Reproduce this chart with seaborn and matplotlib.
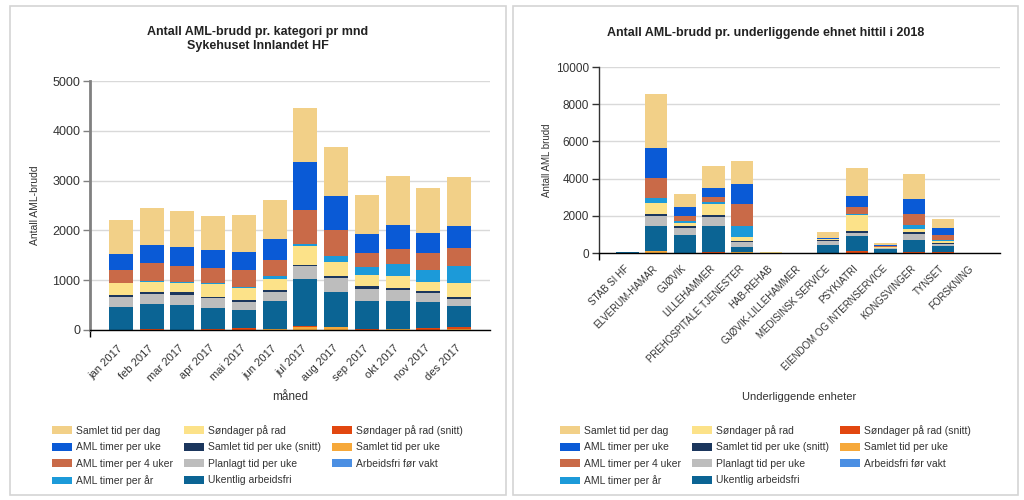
import numpy as np
import pandas as pd
import matplotlib
matplotlib.use("Agg")
import matplotlib.pyplot as plt
import seaborn as sns
from matplotlib.patches import Patch, Rectangle

# ---------------- data ----------------
months = ["jan 2017", "feb 2017", "mar 2017", "apr 2017", "mai 2017", "jun 2017",
          "jul 2017", "aug 2017", "sep 2017", "okt 2017", "nov 2017", "des 2017"]
units = ["STAB SI HF", "ELVERUM-HAMAR", "GJØVIK", "LILLEHAMMER", "PREHOSPITALE TJENESTER",
         "HAB-REHAB", "GJØVIK-LILLEHAMMER", "MEDISINSK SERVICE", "PSYKIATRI",
         "EIENDOM OG INTERNSERVICE", "KONGSVINGER", "TYNSET", "FORSKNING"]

series_names = ["Samlet tid per dag", "AML timer per uke", "AML timer per 4 uker",
                "AML timer per år", "Søndager på rad", "Samlet tid per uke (snitt)",
                "Planlagt tid per uke", "Ukentlig arbeidsfri", "Søndager på rad (snitt)",
                "Samlet tid per uke", "Arbeidsfri før vakt"]
series_colors = ["#F2D088", "#0A5AD6", "#C96A48", "#1C9AD9", "#FCE289", "#1B365D",
                 "#BDBDBD", "#0B6494", "#E2470F", "#F6A83A", "#4B8FE3"]

# per month (left chart)
m_samlet_dag = [676, 736, 717, 689, 736, 776, 1091, 978, 783, 991, 904, 978]
m_aml_uke = [321, 368, 388, 362, 368, 428, 957, 689, 389, 475, 402, 441]
m_aml_4uker = [258, 355, 328, 288, 335, 315, 683, 515, 267, 308, 334, 362]
m_aml_aar = [10, 20, 20, 20, 33, 67, 40, 121, 168, 241, 248, 348]
m_sondager = [234, 208, 181, 267, 241, 214, 382, 288, 220, 241, 181, 274]
m_samlet_uke_snitt = [34, 40, 53, 27, 27, 40, 13, 47, 54, 33, 40, 41]
m_planlagt = [207, 194, 201, 201, 167, 188, 275, 267, 248, 228, 180, 140]
m_ukentlig = [452, 502, 495, 405, 362, 552, 937, 703, 569, 552, 516, 428]
m_sondager_snitt = [10, 20, 7, 25, 35, 10, 10, 7, 13, 10, 40, 40]
m_samlet_uke = [0, 0, 0, 5, 5, 20, 70, 60, 0, 20, 0, 14]
m_arbeidsfri = [0, 0, 0, 0, 0, 0, 0, 0, 0, 0, 0, 0]

# per unit (right chart)
u_samlet_dag = [0, 2946, 661, 1214, 1268, 0, 0, 350, 1500, 70, 1357, 479, 0]
u_aml_uke = [20, 1607, 536, 482, 1053, 0, 0, 30, 589, 50, 786, 394, 0]
u_aml_4uker = [0, 1072, 268, 268, 1214, 0, 0, 40, 412, 70, 625, 268, 0]
u_aml_aar = [0, 267, 89, 89, 572, 0, 0, 0, 70, 0, 178, 43, 0]
u_sondager = [0, 590, 178, 625, 197, 20, 0, 20, 857, 40, 179, 100, 0]
u_samlet_uke_snitt = [0, 89, 90, 107, 60, 0, 0, 60, 90, 20, 89, 54, 0]
u_planlagt = [0, 571, 357, 482, 280, 0, 0, 230, 178, 40, 322, 107, 0]
u_ukentlig = [50, 1339, 982, 1375, 250, 0, 0, 400, 768, 215, 660, 322, 0]
u_sondager_snitt = [0, 0, 0, 54, 0, 0, 0, 20, 125, 14, 54, 54, 0]
u_samlet_uke = [0, 90, 0, 0, 70, 25, 0, 0, 0, 0, 0, 0, 0]
u_arbeidsfri = [0, 0, 0, 0, 0, 0, 0, 0, 0, 0, 0, 0, 0]

left_layers = [m_samlet_dag, m_aml_uke, m_aml_4uker, m_aml_aar, m_sondager,
               m_samlet_uke_snitt, m_planlagt, m_ukentlig, m_sondager_snitt,
               m_samlet_uke, m_arbeidsfri]
right_layers = [u_samlet_dag, u_aml_uke, u_aml_4uker, u_aml_aar, u_sondager,
                u_samlet_uke_snitt, u_planlagt, u_ukentlig, u_sondager_snitt,
                u_samlet_uke, u_arbeidsfri]

# ---------------- style ----------------
sns.set_theme(style="white")
plt.rcParams["font.family"] = ["Liberation Sans", "DejaVu Sans"]
TXT = "#333333"

W, H = 1024, 500
fig = plt.figure(figsize=(W / 100, H / 100), dpi=100)


def px_axes(x0, y0, x1, y1):
    return fig.add_axes([x0 / W, 1 - y1 / H, (x1 - x0) / W, (y1 - y0) / H])


# panel frames
for (x0, x1) in [(10, 506), (513, 1018)]:
    fig.patches.append(Rectangle((x0 / W, 5 / H), (x1 - x0) / W, 489 / H,
                                 transform=fig.transFigure, fill=False,
                                 edgecolor="#D4D4D4", linewidth=1.2))


def stacked(ax, cats, layers):
    # layers given top -> bottom; draw cumulative totals tallest first
    bottom_first = [np.asarray(l, dtype=float) for l in layers[::-1]]
    cols_bottom_first = series_colors[::-1]
    cum = np.cumsum(np.vstack(bottom_first), axis=0)
    for i in range(len(cum) - 1, -1, -1):
        df = pd.DataFrame({"cat": cats, "v": cum[i]})
        sns.barplot(data=df, x="cat", y="v", order=cats, color=cols_bottom_first[i],
                    saturation=1, width=0.78, linewidth=0, errorbar=None, ax=ax)


def style_axes(ax, n, ymax, ystep, ytick_size, xtick_size, left_spine_color, left_spine_w, xpad):
    ax.set_xlim(-1, n)
    ax.set_ylim(0, ymax)
    ax.set_yticks(np.arange(0, ymax + 1, ystep))
    ax.yaxis.grid(True, color="#D9D9D9", linewidth=1)
    ax.xaxis.grid(False)
    ax.set_axisbelow(True)
    for s in ["top", "right"]:
        ax.spines[s].set_visible(False)
    ax.spines["bottom"].set_color("#000000")
    ax.spines["bottom"].set_linewidth(1)
    ax.spines["left"].set_color(left_spine_color)
    ax.spines["left"].set_linewidth(left_spine_w)
    ax.set_xticks(np.arange(n))
    ax.set_xticks(np.arange(-1, n, 2), minor=True)
    ax.tick_params(axis="x", which="major", length=0, pad=xpad, labelsize=xtick_size,
                   labelcolor=TXT)
    ax.tick_params(axis="x", which="minor", bottom=True, length=5, width=1,
                   color="#000000", direction="out")
    ax.tick_params(axis="y", left=True, length=5, width=1, color=left_spine_color,
                   direction="out", labelsize=ytick_size, labelcolor=TXT, pad=2)
    for lbl in ax.get_xticklabels():
        lbl.set_rotation(45)
        lbl.set_ha("right")
        lbl.set_va("center")
        lbl.set_rotation_mode("anchor")


# ---------------- left chart ----------------
axL = px_axes(90, 81, 490, 330)
stacked(axL, months, left_layers)
style_axes(axL, len(months), 5000, 1000, 9, 8, "#808080", 2, 12)
axL.set_ylabel("Antall AML-brudd", fontsize=7.5, color=TXT)
axL.yaxis.set_label_coords(-0.125, 0.5)
axL.set_xlabel("måned", fontsize=8.5, color=TXT)
axL.xaxis.set_label_coords(0.5, -0.245)

fig.text(258 / W, 1 - 39 / H, "Antall AML-brudd pr. kategori pr mnd\nSykehuset Innlandet HF",
         ha="center", va="center", fontsize=9, fontweight="bold",
         family=["Liberation Sans Narrow", "Liberation Sans", "DejaVu Sans"],
         linespacing=1.15, color="#222222")

# ---------------- right chart ----------------
axR = px_axes(599, 67, 1000, 253)
stacked(axR, units, right_layers)
style_axes(axR, len(units), 10000, 2000, 8.5, 7, "#333333", 1, 10)
axR.set_ylabel("Antall AML brudd", fontsize=7, color=TXT)
axR.yaxis.set_label_coords(-0.118, 0.5)
axR.set_xlabel("Underliggende enheter", fontsize=8, color=TXT)
axR.xaxis.set_label_coords(0.5, -0.75)

fig.text(766 / W, 1 - 33 / H, "Antall AML-brudd pr. underliggende ehnet hittil i 2018",
         ha="center", va="center", fontsize=9, fontweight="bold",
         family=["Liberation Sans Narrow", "Liberation Sans", "DejaVu Sans"],
         color="#222222")

# ---------------- legends ----------------
handles = [Patch(facecolor=c, edgecolor="none") for c in series_colors]
for x0 in [52, 560]:
    fig.legend(handles, series_names, loc="upper left",
               bbox_to_anchor=(x0 / W, 1 - 425 / H), ncol=3, frameon=False,
               fontsize=7.5, handlelength=1.9, handleheight=0.8, handletextpad=0.45,
               columnspacing=1.0, labelspacing=0.62, borderpad=0, borderaxespad=0,
               labelcolor=TXT)

fig.savefig("out.png", dpi=100)
